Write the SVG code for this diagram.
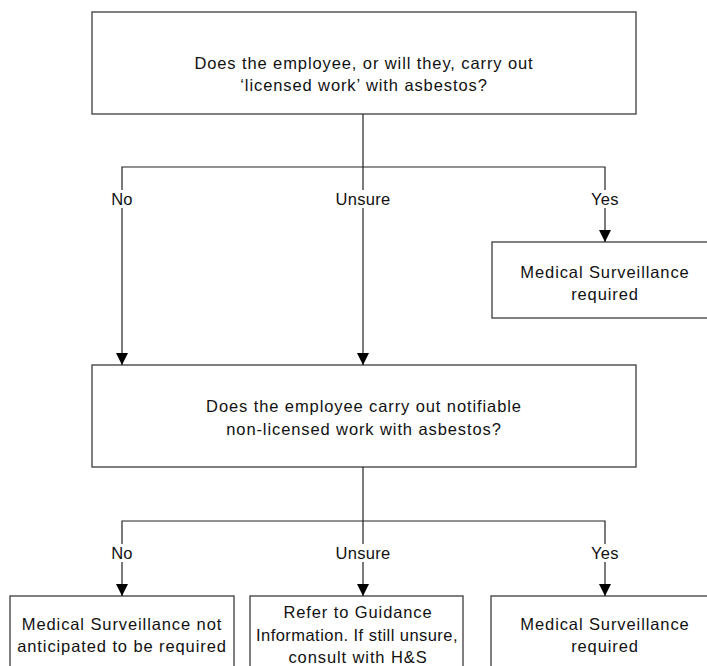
<svg xmlns="http://www.w3.org/2000/svg" width="707" height="666" viewBox="0 0 707 666">
  <style>
    .box { fill: #ffffff; stroke: #555555; stroke-width: 1.5; }
    .txt { font-family: "Liberation Sans", Arial, sans-serif; font-size: 16.5px; letter-spacing: 0.9px; fill: #111111; text-anchor: middle; }
    .tight { letter-spacing: 0.45px; }
    .lbl { font-family: "Liberation Sans", Arial, sans-serif; font-size: 16.5px; letter-spacing: 0.3px; fill: #111111; text-anchor: middle; }
    .wire { fill: none; stroke: #222222; stroke-width: 1.2; }
  </style>
  <defs>
    <marker id="arrow" viewBox="0 0 12 13" refX="12" refY="6.5" markerWidth="12" markerHeight="13" markerUnits="userSpaceOnUse" orient="auto">
      <path d="M0,0.5 L12,6.5 L0,12.5 Z" fill="#000000"/>
    </marker>
  </defs>
  <rect width="707" height="666" fill="#ffffff"/>

  <!-- decision 1 -->
  <g id="q-licensed">
    <rect class="box" x="92" y="12" width="544" height="102"/>
    <text class="txt" x="364" y="69">Does the employee, or will they, carry out</text>
    <text class="txt" x="364" y="91">‘licensed work’ with asbestos?</text>
  </g>

  <!-- outcome of decision 1: yes -->
  <g id="r-licensed-yes">
    <rect class="box" x="492" y="242" width="226" height="76"/>
    <text class="txt" x="605" y="278">Medical Surveillance</text>
    <text class="txt" x="605" y="300">required</text>
  </g>

  <!-- decision 2 -->
  <g id="q-notifiable">
    <rect class="box" x="92" y="365" width="544" height="102"/>
    <text class="txt" x="364" y="412">Does the employee carry out notifiable</text>
    <text class="txt" x="364" y="435">non-licensed work with asbestos?</text>
  </g>

  <!-- outcomes of decision 2 -->
  <g id="r-notifiable-no">
    <rect class="box" x="10" y="596" width="224" height="110"/>
    <text class="txt" x="122" y="630">Medical Surveillance not</text>
    <text class="txt" x="122" y="652">anticipated to be required</text>
  </g>
  <g id="r-notifiable-unsure">
    <rect class="box" x="250" y="596" width="213" height="110"/>
    <text class="txt" x="358" y="618">Refer to Guidance</text>
    <text class="txt tight" x="357" y="641">Information. If still unsure,</text>
    <text class="txt" x="358" y="663">consult with H&amp;S</text>
  </g>
  <g id="r-notifiable-yes">
    <rect class="box" x="491" y="596" width="228" height="110"/>
    <text class="txt" x="605" y="630">Medical Surveillance</text>
    <text class="txt" x="605" y="652">required</text>
  </g>

  <!-- connectors with their branch labels -->
  <g id="connectors">
    <!-- from decision 1 -->
    <path class="wire" d="M363,114 V190"/>
    <path class="wire" d="M122,190 V167 H605 V190"/>
    <path class="wire" d="M122,208 V365" marker-end="url(#arrow)"/>
    <path class="wire" d="M363,208 V365" marker-end="url(#arrow)"/>
    <path class="wire" d="M605,208 V242" marker-end="url(#arrow)"/>
    <text class="lbl" x="122" y="205">No</text>
    <text class="lbl" x="363" y="205">Unsure</text>
    <text class="lbl" x="605" y="205">Yes</text>

    <!-- from decision 2 -->
    <path class="wire" d="M363,467 V544"/>
    <path class="wire" d="M122,544 V521 H605 V544"/>
    <path class="wire" d="M122,562 V596" marker-end="url(#arrow)"/>
    <path class="wire" d="M363,562 V596" marker-end="url(#arrow)"/>
    <path class="wire" d="M605,562 V596" marker-end="url(#arrow)"/>
    <text class="lbl" x="122" y="559">No</text>
    <text class="lbl" x="363" y="559">Unsure</text>
    <text class="lbl" x="605" y="559">Yes</text>
  </g>
</svg>
